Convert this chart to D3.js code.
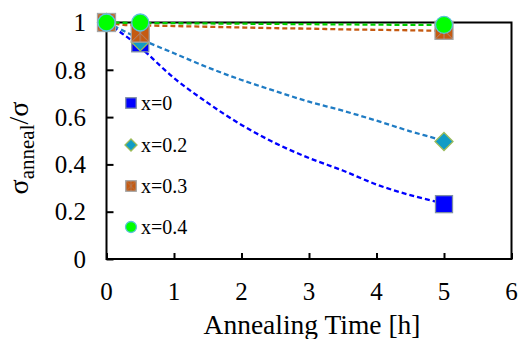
<!DOCTYPE html>
<html><head><meta charset="utf-8">
<script src="https://cdn.jsdelivr.net/npm/d3@7"></script>
<style>body{margin:0;background:#fff}svg{display:block}text{font-family:"Liberation Serif","Times New Roman",serif;fill:#000}</style>
</head><body>
<svg id="c" width="520" height="339"></svg>
<script>
// ---- data ----
const xTicks = [0,1,2,3,4,5,6];
const yTicks = [0,0.2,0.4,0.6,0.8,1];
const yTickLabels = ["0","0.2","0.4","0.6","0.8","1"];
const seriesNames = ["x=0","x=0.2","x=0.3","x=0.4"];
const times = [0,0.5,5];
const valsX0  = [1,0.912,0.232];
const valsX02 = [1,0.918,0.497];
const valsX03 = [1,0.955,0.967];
const valsX04 = [1,1.0,0.99];
// dashed fit curves
const fitT = [0,0.25,0.5,1,1.5,2,2.5,3,3.5,4,4.5,5];
const fitX0  = [1,0.95,0.895,0.765,0.66,0.567,0.49,0.427,0.374,0.315,0.27,0.235];
const fitX02 = [1,0.965,0.93,0.87,0.81,0.757,0.71,0.665,0.627,0.585,0.54,0.5];
const fitX03 = [1,0.99,0.988,0.985,0.982,0.979,0.976,0.974,0.971,0.969,0.967,0.965];
const fitX04 = [1,0.999,0.998,0.997,0.996,0.995,0.994,0.993,0.992,0.991,0.99,0.99];

const svg = d3.select("#c");
const L=106.5, R=511.5, T=22.5, B=259;
const x = d3.scaleLinear().domain([0,6]).range([L,R]);
const y = d3.scaleLinear().domain([0,1]).range([B,T]);

const defs = svg.append("defs");
const pat = defs.append("pattern").attr("id","hatch").attr("patternUnits","objectBoundingBox").attr("width",1).attr("height",1).attr("viewBox","0 0 10 10").attr("preserveAspectRatio","none");
pat.append("rect").attr("width",10).attr("height",10).attr("fill","#c55a11");
pat.append("path").attr("d","M0,0L10,10M10,0L0,10M5,0L5,10").attr("stroke","#9aa4b8").attr("stroke-width",0.5).attr("opacity",0.7);

// frame
svg.append("rect").attr("x",L).attr("y",T).attr("width",R-L).attr("height",B-T).attr("fill","none").attr("stroke","#000").attr("stroke-width",2);

// ticks (inside)
const xAxis = d3.axisBottom(x).tickValues(xTicks).tickSize(-6).tickFormat("");
svg.append("g").attr("transform",`translate(0,${B})`).call(xAxis).call(g=>{g.select(".domain").remove();g.selectAll("line").attr("stroke","#000").attr("stroke-width",2);});
const yAxis = d3.axisLeft(y).tickValues(yTicks).tickSize(-7).tickFormat("");
svg.append("g").attr("transform",`translate(${L},0)`).call(yAxis).call(g=>{g.select(".domain").remove();g.selectAll("line").attr("stroke","#000").attr("stroke-width",2);});

// tick labels
svg.append("g").selectAll("text").data(xTicks).join("text")
  .attr("x",d=>x(d)).attr("y",300).attr("text-anchor","middle").attr("font-size",25).text(d=>d);
svg.append("g").selectAll("text").data(yTicks).join("text")
  .attr("x",86).attr("y",d=>y(d)).attr("dy","0.35em").attr("text-anchor","end").attr("font-size",25).text((d,i)=>yTickLabels[i]);

// axis titles
svg.append("text").attr("x",312).attr("y",334).attr("text-anchor","middle").attr("font-size",27.5).text("Annealing Time [h]");
const yt = svg.append("text").attr("transform","translate(28,148) rotate(-90)").attr("text-anchor","middle").attr("font-size",28);
yt.append("tspan").text("σ");
yt.append("tspan").attr("font-size",21).attr("dy",6).text("anneal");
yt.append("tspan").attr("dy",-6).text("/σ");

// fit curves
const line = d3.line().x(d=>x(d[0])).y(d=>y(d[1])).curve(d3.curveCatmullRom);
const fits = [[fitX0,"#0000ff"],[fitX02,"#1f7cc4"],[fitX03,"#c55a11"],[fitX04,"#00cc00"]];
fits.forEach(([v,c])=>{
  svg.append("path").datum(fitT.map((t,i)=>[t,v[i]])).attr("d",line)
    .attr("fill","none").attr("stroke",c).attr("stroke-width",2.3).attr("stroke-dasharray","5,3");
});

// markers
function square(g,cx,cy,s,fill,stroke){g.append("rect").attr("x",cx-s/2).attr("y",cy-s/2).attr("width",s).attr("height",s).attr("fill",fill).attr("stroke",stroke).attr("stroke-width",1.3);}
function diamond(g,cx,cy,s,fill,stroke){g.append("path").attr("d",`M${cx},${cy-s/2}L${cx+s/2},${cy}L${cx},${cy+s/2}L${cx-s/2},${cy}Z`).attr("fill",fill).attr("stroke",stroke).attr("stroke-width",1.3);}
function circle(g,cx,cy,s,fill,stroke){g.append("circle").attr("cx",cx).attr("cy",cy).attr("r",s/2).attr("fill",fill).attr("stroke",stroke).attr("stroke-width",1.3);}
const mk = [
  [valsX0, (g,a,b,s)=>square(g,a,b,s,"#0000ff","#7f8fa6"),17],
  [valsX02,(g,a,b,s)=>diamond(g,a,b,s,"#109cc6","#9bbb59"),18],
  [valsX03,(g,a,b,s)=>square(g,a,b,s,"url(#hatch)","#a5a5a5"),18],
  [valsX04,(g,a,b,s)=>circle(g,a,b,s,"#00ff00","#5bc0de"),17]
];
const mg = svg.append("g");
mk.forEach(([v,f,s])=>times.forEach((t,i)=>f(mg,x(t),y(v[i]),s)));

// legend
const legY = [103,145,186,227];
const lg = svg.append("g");
mk.forEach(([v,f,s],i)=>{
  f(lg,131,legY[i],i===1?12:(i===3?11:10.5));
  lg.append("text").attr("x",141).attr("y",legY[i]).attr("dy","0.35em").attr("font-size",20).text(seriesNames[i]);
});
</script>
</body></html>
